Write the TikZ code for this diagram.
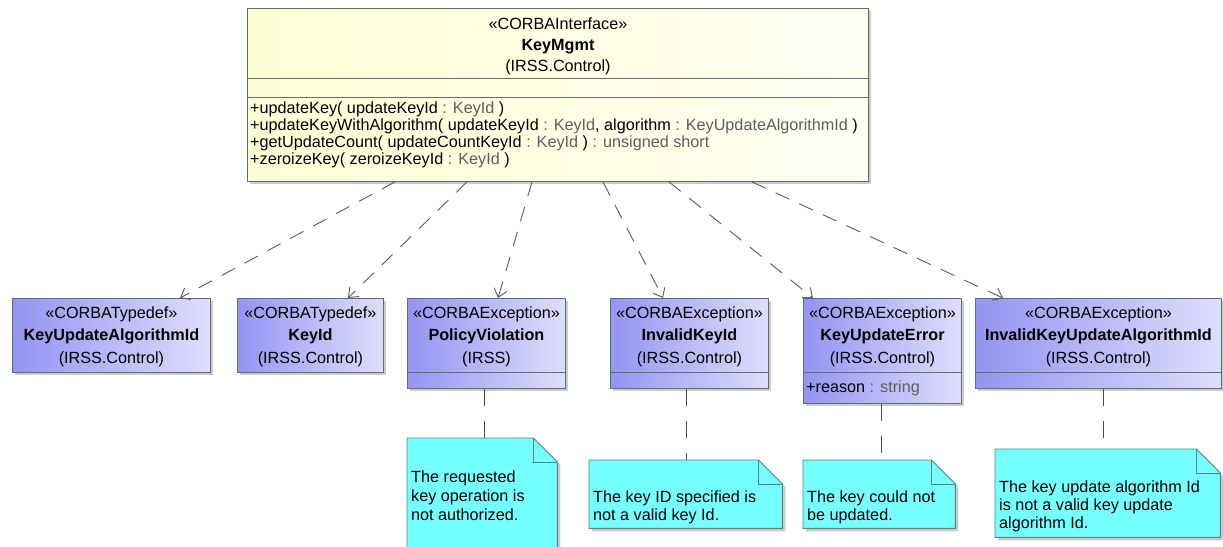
\documentclass[tikz,border=0pt]{standalone}
\usepackage{fontspec}
\setmainfont{Liberation Sans}
\usetikzlibrary{arrows.meta,shadows}

\definecolor{boxedge}{HTML}{5C7070}
\definecolor{noteedge}{HTML}{5A8282}
\definecolor{linkgray}{HTML}{5A5A5A}
\definecolor{typegray}{HTML}{5E5E5E}
\definecolor{ylA}{HTML}{FFFFD6}
\definecolor{ylB}{HTML}{FFFFF2}
\definecolor{blA}{HTML}{9494F2}
\definecolor{blB}{HTML}{DEDEFC}
\definecolor{notecyan}{HTML}{76FFFF}

\newcommand\tyname[1]{\textcolor{typegray}{#1}}
\newcommand\dogear[1]{%
  \path[notefill] (#1.north west) -- ([xshift=-24pt]#1.north east)
    -- ([yshift=-24pt]#1.north east) -- (#1.south east) -- (#1.south west) -- cycle;
  \draw[noteline] ([xshift=-24pt]#1.north east) -- ([xshift=-24pt,yshift=-24pt]#1.north east)
    -- ([yshift=-24pt]#1.north east);}

\begin{document}
\begin{tikzpicture}[x=1pt,y=-1pt,
  shade/.style={drop shadow={shadow xshift=3pt,shadow yshift=-3pt,fill=black!45,opacity=0.45}},
  topbox/.style={draw=boxedge,line width=0.9pt,left color=ylA,right color=ylB,shade,inner sep=0pt,anchor=north west},
  typebox/.style={draw=boxedge,line width=0.9pt,left color=blA,right color=blB,shade,inner sep=0pt,anchor=north west},
  notearea/.style={inner sep=0pt,anchor=north west},
  notefill/.style={draw=noteedge,line width=0.9pt,fill=notecyan,shade},
  noteline/.style={draw=noteedge,line width=0.9pt},
  divider/.style={draw=boxedge,line width=0.9pt},
  lbl/.style={inner sep=0pt,font=\fontsize{16.2pt}{19pt}\selectfont,anchor=base},
  lblw/.style={lbl,anchor=base west},
  dep/.style={draw=linkgray,line width=0.9pt,dash pattern=on 15pt off 11pt,
    -{Straight Barb[length=8pt,width=13pt,line width=0.9pt]}},
  nlink/.style={draw=linkgray!85!black,line width=0.9pt,dash pattern=on 17pt off 15pt},
]
\useasboundingbox (0,0) rectangle (1223,546);
\clip (0,0) rectangle (1223,546);
\fill[white] (0,0) rectangle (1223,546);

% ---------- interface ----------
\node[topbox,minimum width=621pt,minimum height=173pt] (km) at (247,8) {};
\draw[divider] ([yshift=-70pt]km.north west) -- ([yshift=-70pt]km.north east);
\draw[divider] ([yshift=-89pt]km.north west) -- ([yshift=-89pt]km.north east);
\node[lbl] (km-st) at ([yshift=-21pt]km.north) {«CORBAInterface»};
\node[lbl] (km-nm) at ([yshift=-42pt]km.north) {\textbf{KeyMgmt}};
\node[lbl] (km-pk) at ([yshift=-63pt]km.north) {(IRSS.Control)};
\node[lblw] (op1) at ([xshift=3pt,yshift=-105pt]km.north west)
  {+updateKey( updateKeyId \tyname{: KeyId} )};
\node[lblw] (op2) at ([xshift=3pt,yshift=-122pt]km.north west)
  {+updateKeyWithAlgorithm( updateKeyId \tyname{: KeyId}, algorithm \tyname{: KeyUpdateAlgorithmId} )};
\node[lblw] (op3) at ([xshift=3pt,yshift=-139pt]km.north west)
  {+getUpdateCount( updateCountKeyId \tyname{: KeyId} ) \tyname{: unsigned short}};
\node[lblw] (op4) at ([xshift=3pt,yshift=-156pt]km.north west)
  {+zeroizeKey( zeroizeKeyId \tyname{: KeyId} )};

% ---------- typedefs and exceptions ----------
\node[typebox,minimum width=198pt,minimum height=74pt] (kua) at (12,298) {};
\node[typebox,minimum width=146pt,minimum height=74pt] (kid) at (237,298) {};
\node[typebox,minimum width=158pt,minimum height=90pt] (pv) at (407,298) {};
\node[typebox,minimum width=158pt,minimum height=90pt] (ik) at (610,298) {};
\node[typebox,minimum width=158pt,minimum height=105pt] (kue) at (803,298) {};
\node[typebox,minimum width=246pt,minimum height=90pt] (ikua) at (975,298) {};

\foreach \b in {pv,ik,kue,ikua}
  \draw[divider] ([yshift=-74pt]\b.north west) -- ([yshift=-74pt]\b.north east);

\node[lbl] (kua-st) at ([yshift=-20pt]kua.north) {«CORBATypedef»};
\node[lbl] (kua-nm) at ([yshift=-42pt]kua.north) {\textbf{KeyUpdateAlgorithmId}};
\node[lbl] (kua-pk) at ([yshift=-65pt]kua.north) {(IRSS.Control)};

\node[lbl] (kid-st) at ([yshift=-20pt]kid.north) {«CORBATypedef»};
\node[lbl] (kid-nm) at ([yshift=-42pt]kid.north) {\textbf{KeyId}};
\node[lbl] (kid-pk) at ([yshift=-65pt]kid.north) {(IRSS.Control)};

\node[lbl] (pv-st) at ([yshift=-20pt]pv.north) {«CORBAException»};
\node[lbl] (pv-nm) at ([yshift=-42pt]pv.north) {\textbf{PolicyViolation}};
\node[lbl] (pv-pk) at ([yshift=-65pt]pv.north) {(IRSS)};

\node[lbl] (ik-st) at ([yshift=-20pt]ik.north) {«CORBAException»};
\node[lbl] (ik-nm) at ([yshift=-42pt]ik.north) {\textbf{InvalidKeyId}};
\node[lbl] (ik-pk) at ([yshift=-65pt]ik.north) {(IRSS.Control)};

\node[lbl] (kue-st) at ([yshift=-20pt]kue.north) {«CORBAException»};
\node[lbl] (kue-nm) at ([yshift=-42pt]kue.north) {\textbf{KeyUpdateError}};
\node[lbl] (kue-pk) at ([yshift=-65pt]kue.north) {(IRSS.Control)};
\node[lblw] (kue-at) at ([xshift=3pt,yshift=-94pt]kue.north west) {+reason \tyname{: string}};

\node[lbl] (ikua-st) at ([yshift=-20pt]ikua.north) {«CORBAException»};
\node[lbl] (ikua-nm) at ([yshift=-42pt]ikua.north) {\textbf{InvalidKeyUpdateAlgorithmId}};
\node[lbl] (ikua-pk) at ([yshift=-65pt]ikua.north) {(IRSS.Control)};

% ---------- usage dependencies ----------
\draw[dep] ([xshift=148pt]km.south west) -- ([xshift=168pt]kua.north west);
\draw[dep] ([xshift=220pt]km.south west) -- ([xshift=111pt]kid.north west);
\draw[dep] ([xshift=285pt]km.south west) -- ([xshift=91pt]pv.north west);
\draw[dep] ([xshift=356pt]km.south west) -- ([xshift=53pt]ik.north west);
\draw[dep] ([xshift=422pt]km.south west) -- ([xshift=10pt]kue.north west);
\draw[dep] ([xshift=505pt]km.south west) -- ([xshift=28pt]ikua.north west);

% ---------- notes ----------
\node[notearea,minimum width=150pt,minimum height=130pt] (n1) at (407,438) {};
\node[notearea,minimum width=193pt,minimum height=68pt] (n2) at (589,460) {};
\node[notearea,minimum width=152pt,minimum height=68pt] (n3) at (803,460) {};
\node[notearea,minimum width=225pt,minimum height=88pt] (n4) at (995,449) {};

\draw[nlink] ([xshift=77pt]pv.south west) -- ([xshift=77pt]n1.north west);
\draw[nlink] ([xshift=76pt]ik.south west) -- ([xshift=97pt]n2.north west);
\draw[nlink] ([xshift=78pt]kue.south west) -- ([xshift=78pt]n3.north west);
\draw[nlink] ([xshift=128pt]ikua.south west) -- ([xshift=108pt]n4.north west);

\dogear{n1}
\dogear{n2}
\dogear{n3}
\dogear{n4}

\node[lblw] (n1-a) at (411,482) {The requested};
\node[lblw] (n1-b) at (411,501) {key operation is};
\node[lblw] (n1-c) at (411,520) {not authorized.};

\node[lblw] (n2-a) at (593,502) {The key ID specified is};
\node[lblw] (n2-b) at (593,520) {not a valid key Id.};

\node[lblw] (n3-a) at (807,502) {The key could not};
\node[lblw] (n3-b) at (807,520) {be updated.};

\node[lblw] (n4-a) at (999,492) {The key update algorithm Id};
\node[lblw] (n4-b) at (999,510) {is not a valid key update};
\node[lblw] (n4-c) at (999,528) {algorithm Id.};
\end{tikzpicture}
\end{document}
